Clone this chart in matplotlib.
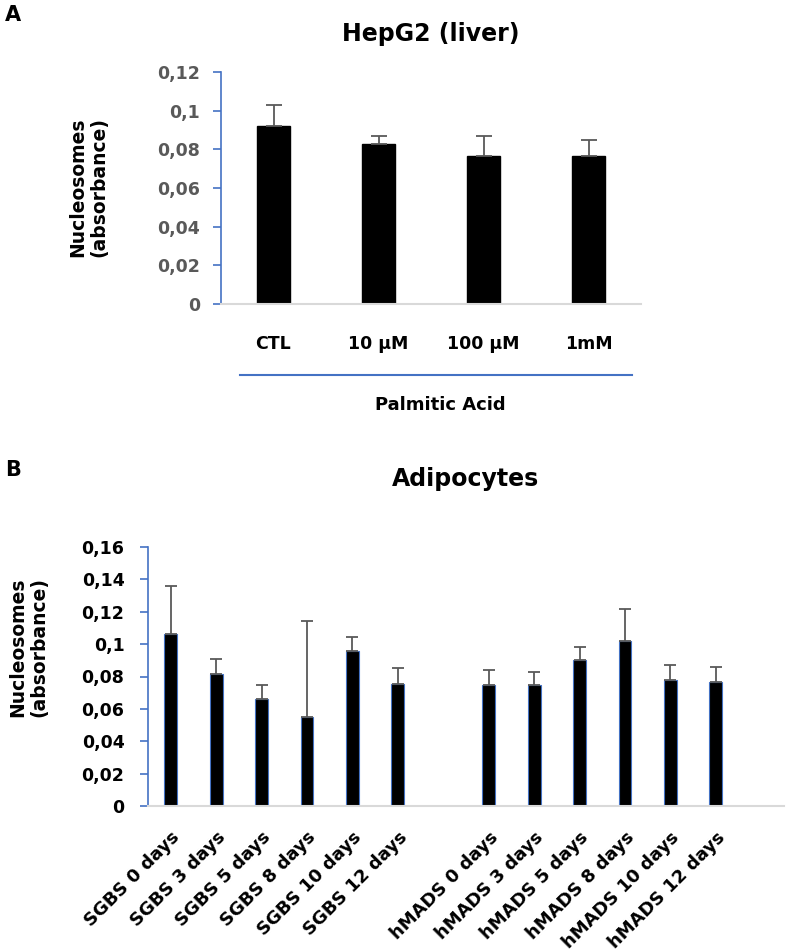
import matplotlib
matplotlib.use("Agg")
import matplotlib.pyplot as plt
import numpy as np

########################################################################
# Data

hep_labels = ["CTL", "10 µM", "100 µM", "1mM"]
hep_means = [0.092, 0.0825, 0.0768, 0.0768]
hep_err = [0.011, 0.0045, 0.0100, 0.0078]

adipo_labels = ["SGBS 0 days", "SGBS 3 days", "SGBS 5 days", "SGBS 8 days",
                "SGBS 10 days", "SGBS 12 days", "",
                "hMADS 0 days", "hMADS 3 days", "hMADS 5 days",
                "hMADS 8 days", "hMADS 10 days", "hMADS 12 days", ""]
adipo_means = [0.106, 0.0815, 0.066, 0.055, 0.096, 0.0755, np.nan,
               0.0745, 0.0745, 0.090, 0.102, 0.0776, 0.0766, np.nan]
adipo_err = [0.030, 0.0095, 0.0087, 0.059, 0.0086, 0.0095, np.nan,
             0.0095, 0.0085, 0.008, 0.0195, 0.0094, 0.0094, np.nan]

########################################################################
# Style

plt.rcParams["font.family"] = ["DejaVu Sans"]
plt.rcParams["font.weight"] = "bold"

BLUE = "#4472C4"
GREY = "#595959"
LIGHT = "#D9D9D9"
W, H = 787, 951

fig = plt.figure(figsize=(W / 100, H / 100), dpi=100)


def frac(x0, y0, x1, y1):
    # pixel box (top-left origin) -> figure fraction rect
    return [x0 / W, 1 - y1 / H, (x1 - x0) / W, (y1 - y0) / H]


def style_axes(ax, tick_color, pad):
    for s in ("top", "right"):
        ax.spines[s].set_visible(False)
    ax.spines["left"].set_color(BLUE)
    ax.spines["left"].set_linewidth(1.2)
    ax.spines["bottom"].set_color(LIGHT)
    ax.spines["bottom"].set_linewidth(1.5)
    ax.tick_params(axis="y", colors=BLUE, length=6, width=1.2, direction="out",
                   labelcolor=tick_color, labelsize=12.5, pad=pad)
    ax.tick_params(axis="x", length=0)


########################################################################
# Panel A: HepG2

axA = fig.add_axes(frac(221, 72, 641, 304))
xa = np.arange(len(hep_labels))
axA.bar(xa, hep_means, width=0.32, color="black", edgecolor="black")
axA.errorbar(xa, hep_means, yerr=[np.zeros(len(hep_err)), hep_err], fmt="none",
             ecolor=GREY, elinewidth=1.3, capsize=6, capthick=1.3)
axA.set_xlim(-0.5, len(hep_labels) - 0.5)
axA.set_ylim(0, 0.12)
axA.set_yticks(np.arange(0, 0.121, 0.02))
axA.set_yticklabels(["0", "0,02", "0,04", "0,06", "0,08", "0,1", "0,12"])
axA.set_xticks(xa)
axA.set_xticklabels(hep_labels, fontsize=12.5, fontweight="bold")
style_axes(axA, GREY, 9)
axA.tick_params(axis="x", pad=22, labelcolor="black")
axA.set_title("HepG2 (liver)", fontsize=17, fontweight="bold", pad=22)

fig.add_artist(plt.Line2D([240 / W, 632 / W], [1 - 375 / H, 1 - 375 / H],
                          color=BLUE, lw=1.5))
fig.text(440 / W, 1 - 405 / H, "Palmitic Acid", ha="center", va="center",
         fontsize=13, fontweight="bold")
fig.text(88 / W, 1 - 187 / H, "Nucleosomes\n(absorbance)", rotation=90,
         ha="center", va="center", fontsize=13.5, fontweight="bold",
         linespacing=1.15)
fig.text(5 / W, 1 - 15 / H, "A", ha="left", va="center", fontsize=15,
         fontweight="bold")

########################################################################
# Panel B: Adipocytes

axB = fig.add_axes(frac(148, 547, 784, 806))
xb = np.arange(len(adipo_labels))
axB.bar(xb, adipo_means, width=0.28, color="black", edgecolor=BLUE, linewidth=0.8)
axB.errorbar(xb, adipo_means, yerr=[np.zeros(len(adipo_err)), adipo_err],
             fmt="none", ecolor=GREY, elinewidth=1.3, capsize=4, capthick=1.3)
axB.set_xlim(-0.5, len(adipo_labels) - 0.5)
axB.set_ylim(0, 0.16)
axB.set_yticks(np.arange(0, 0.161, 0.02))
axB.set_yticklabels(["0", "0,02", "0,04", "0,06", "0,08", "0,1", "0,12",
                     "0,14", "0,16"])
axB.set_xticks(xb)
axB.set_xticklabels(adipo_labels, fontsize=13, fontweight="bold",
                    rotation=45, ha="right", rotation_mode="anchor")
style_axes(axB, "black", 11)
axB.tick_params(axis="x", pad=16)
axB.set_title("Adipocytes", fontsize=17, fontweight="bold", pad=44)

fig.text(28 / W, 1 - 647 / H, "Nucleosomes\n(absorbance)", rotation=90,
         ha="center", va="center", fontsize=13.5, fontweight="bold",
         linespacing=1.15)
fig.text(5 / W, 1 - 470 / H, "B", ha="left", va="center", fontsize=15,
         fontweight="bold")

fig.savefig("out.png", dpi=100)
